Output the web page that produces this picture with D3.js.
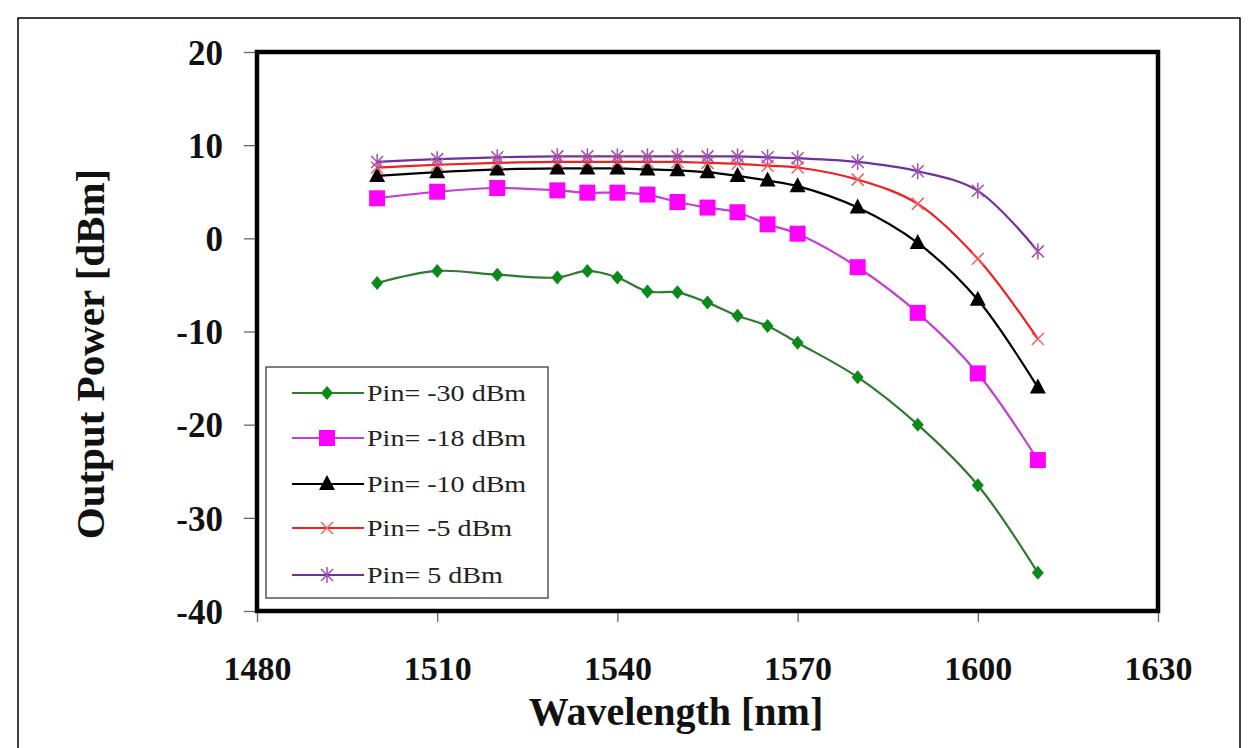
<!DOCTYPE html>
<html><head><meta charset="utf-8">
<script src="https://cdn.jsdelivr.net/npm/d3@7"></script>
<style>body{margin:0;background:#fff}</style>
</head><body>
<svg id="c" width="1256" height="748"></svg>
<script>
const wavelengths = [1500,1510,1520,1530,1535,1540,1545,1550,1555,1560,1565,1570,1580,1590,1600,1610];
const pinM30 = [-4.8,-3.5,-3.9,-4.2,-3.5,-4.2,-5.7,-5.8,-6.9,-8.3,-9.4,-11.2,-14.9,-20.0,-26.5,-35.9];
const pinM18 = [4.3,5.0,5.4,5.15,4.9,4.9,4.7,3.9,3.3,2.8,1.5,0.5,-3.1,-8.0,-14.5,-23.8];
const pinM10 = [6.7,7.1,7.4,7.5,7.5,7.5,7.4,7.3,7.1,6.7,6.2,5.6,3.3,-0.5,-6.6,-16.0];
const pinM5  = [7.6,7.9,8.1,8.2,8.2,8.2,8.2,8.2,8.1,8.0,7.8,7.6,6.3,3.7,-2.2,-10.8];
const pinP5  = [8.2,8.5,8.7,8.8,8.8,8.8,8.8,8.8,8.8,8.8,8.7,8.6,8.2,7.2,5.1,-1.4];
const seriesNames = ["Pin= -30 dBm","Pin= -18 dBm","Pin= -10 dBm","Pin= -5 dBm","Pin= 5 dBm"];
const xTicks = [1480,1510,1540,1570,1600,1630];
const yTicks = [20,10,0,-10,-20,-30,-40];

const series = [
  {name:seriesNames[0], values:pinM30, line:"#2f7a2f", fill:"#0a8a1a", marker:"diamond"},
  {name:seriesNames[1], values:pinM18, line:"#c040d0", fill:"#ff00ff", marker:"square"},
  {name:seriesNames[2], values:pinM10, line:"#000000", fill:"#000000", marker:"triangle"},
  {name:seriesNames[3], values:pinM5,  line:"#ee2020", fill:"#f06060", marker:"x"},
  {name:seriesNames[4], values:pinP5,  line:"#7030a0", fill:"#a050b0", marker:"star"}
];

const svg = d3.select("#c");
const L=257, R=1158, T=52, B=611;
const x = d3.scaleLinear().domain([1480,1630]).range([L,R]);
const y = d3.scaleLinear().domain([-40,20]).range([B,T]);
const serif = "'Liberation Serif','Times New Roman',Tinos,serif";

// outer frame
svg.append("rect").attr("x",18).attr("y",18).attr("width",1222).attr("height",760)
  .attr("fill","none").attr("stroke","#000").attr("stroke-width",1.5);

// axes ticks
const gy = svg.append("g").attr("transform",`translate(${L},0)`)
  .call(d3.axisLeft(y).tickValues(yTicks).tickSize(13).tickPadding(21).tickFormat(d3.format("d")));
gy.select(".domain").remove();
gy.selectAll("line").attr("stroke","#666").attr("stroke-width",1.3);
gy.selectAll("text").attr("font-family",serif).attr("font-weight","bold").attr("font-size",35).attr("fill","#111")
  .attr("dy","0.35em").attr("text-anchor","end").text(d=>d<0?"-"+Math.abs(d):d);

const gx = svg.append("g").attr("transform",`translate(0,${B})`)
  .call(d3.axisBottom(x).tickValues(xTicks).tickSize(11).tickFormat(d3.format("d")));
gx.select(".domain").remove();
gx.selectAll("line").attr("stroke","#666").attr("stroke-width",1.3);
gx.selectAll("text").attr("font-family",serif).attr("font-weight","bold").attr("font-size",34).attr("fill","#111")
  .attr("y",69).attr("dy",0);

// plot frame
svg.append("rect").attr("x",L).attr("y",T).attr("width",R-L).attr("height",B-T)
  .attr("fill","none").attr("stroke","#000").attr("stroke-width",4.5);

// titles
svg.append("text").attr("x",676).attr("y",725).attr("text-anchor","middle")
  .attr("font-family",serif).attr("font-weight","bold").attr("font-size",40).attr("fill","#111")
  .text("Wavelength [nm]");
svg.append("text").attr("transform","translate(104,354) rotate(-90)").attr("text-anchor","middle")
  .attr("font-family",serif).attr("font-weight","bold").attr("font-size",41).attr("fill","#111")
  .text("Output Power [dBm]");

function drawMarker(g, type, fill){
  if(type==="diamond") g.append("path").attr("d","M0,-7L6,0L0,7L-6,0Z").attr("fill",fill);
  else if(type==="square") g.append("rect").attr("x",-8).attr("y",-8).attr("width",16).attr("height",16).attr("fill",fill);
  else if(type==="triangle") g.append("path").attr("d","M0,-9L8,6L-8,6Z").attr("fill",fill);
  else if(type==="x") g.append("path").attr("d","M-6,-6L6,6M-6,6L6,-6").attr("stroke",fill).attr("stroke-width",1.5).attr("fill","none");
  else if(type==="star") g.append("path").attr("d","M-6,-6L6,6M-6,6L6,-6M0,-8L0,8").attr("stroke",fill).attr("stroke-width",1.5).attr("fill","none");
}

const line = d3.line().x(d=>x(d[0])).y(d=>y(d[1])).curve(d3.curveCatmullRom.alpha(0.5));
series.forEach(s=>{
  const pts = wavelengths.map((w,i)=>[w,s.values[i]]);
  svg.append("path").datum(pts).attr("d",line).attr("fill","none").attr("stroke",s.line).attr("stroke-width",2.2);
});
series.forEach(s=>{
  wavelengths.forEach((w,i)=>{
    const g = svg.append("g").attr("transform",`translate(${x(w)},${y(s.values[i])})`);
    drawMarker(g, s.marker, s.fill);
  });
});

// legend
svg.append("rect").attr("x",266).attr("y",367).attr("width",282).attr("height",231)
  .attr("fill","#fff").attr("stroke","#555").attr("stroke-width",1.5);
const legRows = [393,438,484,528,575];
series.forEach((s,i)=>{
  const yy = legRows[i];
  svg.append("line").attr("x1",292).attr("x2",364).attr("y1",yy).attr("y2",yy).attr("stroke",s.line).attr("stroke-width",2.2);
  const g = svg.append("g").attr("transform",`translate(327,${yy})`);
  drawMarker(g, s.marker, s.fill);
  svg.append("text").attr("transform",`translate(367,${yy}) scale(1.22,1)`).attr("dy","0.35em").attr("font-family",serif)
    .attr("font-size",23).attr("fill","#222").text(s.name);
});
</script>
</body></html>
